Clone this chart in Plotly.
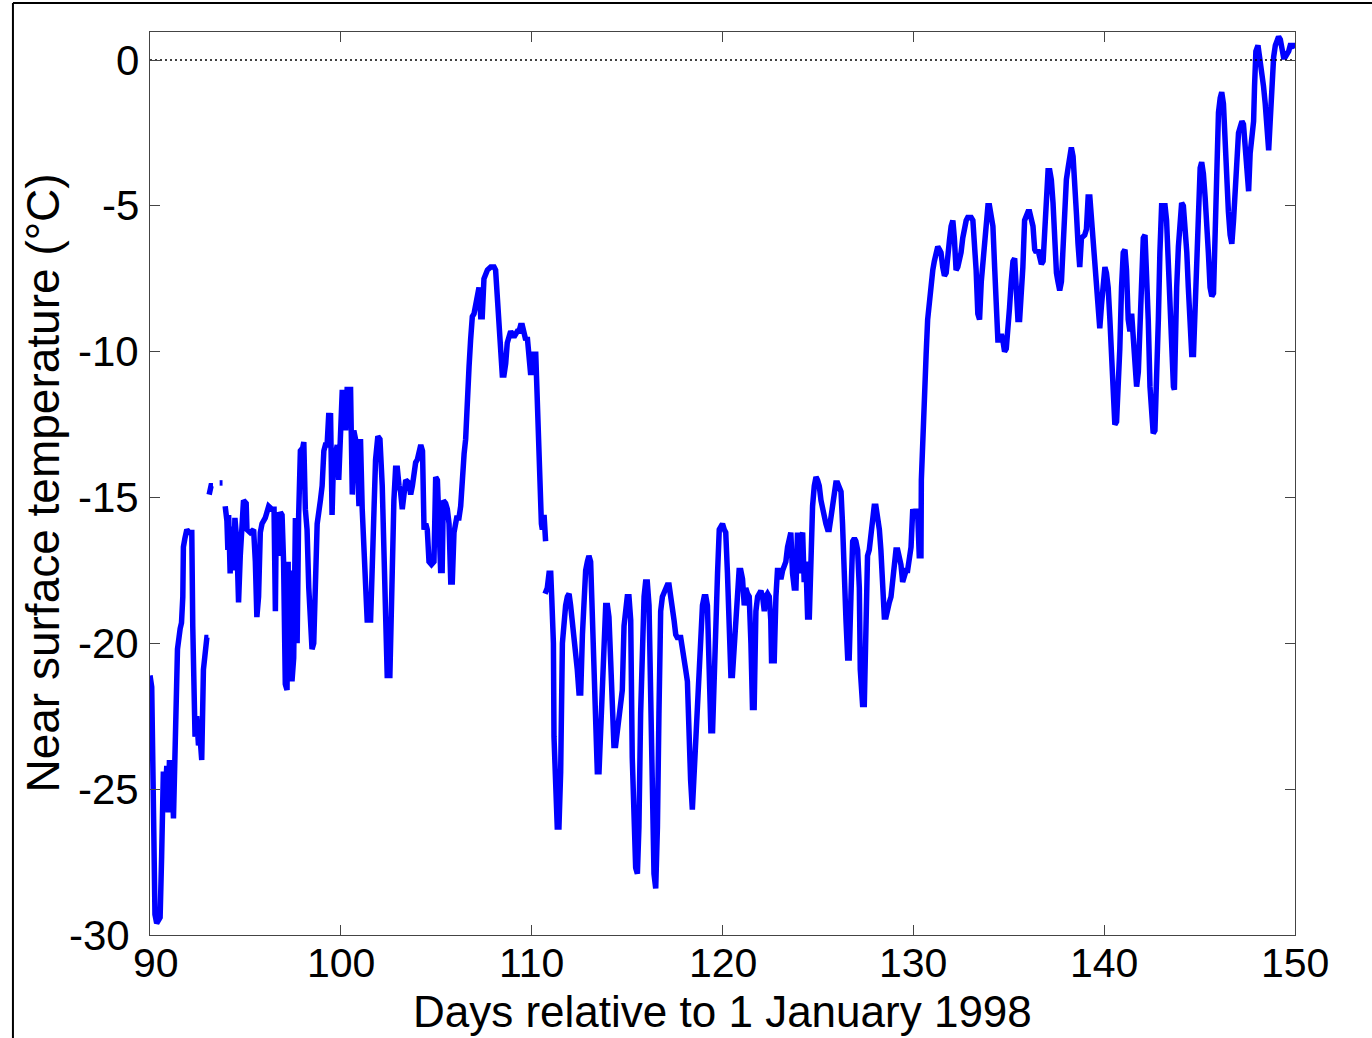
import plotly.graph_objects as go

# ---- data ----
days = [
    90.0, 90.09, 90.2, 90.26, 90.35, 90.45, 90.53, 90.61, 90.7, 90.78, 90.88, 90.95, 91.02, 91.08, 91.14,
    91.23, 91.31, 91.44, 91.58, 91.65, 91.72, 91.75, 91.83, 91.93, 92.05, 92.19, 92.24, 92.28, 92.36, 92.45,
    92.54, 92.62, 92.71, 92.8, 92.9, 92.98, 93.06,
    None,
    93.1, 93.2, 93.3,
    None,
    93.65, 93.8,
    None,
    93.94, 94.03, 94.08, 94.12, 94.2, 94.25, 94.29, 94.38, 94.45, 94.55, 94.64, 94.73, 94.82, 94.9, 95.04,
    95.08, 95.25, 95.43, 95.52, 95.6, 95.69, 95.78, 95.87, 96.04, 96.22, 96.39, 96.5, 96.57, 96.62, 96.7,
    96.83, 96.92, 97.0, 97.09, 97.18, 97.24, 97.27, 97.32, 97.36, 97.4, 97.44, 97.53, 97.62, 97.71, 97.79,
    97.88, 98.0, 98.06, 98.14, 98.23, 98.32, 98.41, 98.49, 98.58, 98.67, 98.76, 98.93, 99.02, 99.11, 99.19,
    99.28, 99.37, 99.42, 99.46, 99.54, 99.63, 99.72, 99.81, 99.89, 99.98, 100.07, 100.16, 100.25, 100.33,
    100.51, 100.6, 100.68, 100.77, 100.86, 100.95, 101.03, 101.12, 101.21, 101.38, 101.56, 101.65, 101.82,
    101.94, 102.05, 102.17, 102.26, 102.35, 102.43, 102.57, 102.64, 102.7, 102.78, 102.87, 102.96, 103.05,
    103.13, 103.22, 103.31, 103.4, 103.57, 103.66, 103.75, 103.84, 103.92, 104.01, 104.19,
    104.28, 104.36, 104.45, 104.53, 104.62, 104.75, 104.88, 104.92, 104.97, 105.06, 105.14, 105.23, 105.31,
    105.37, 105.49, 105.58, 105.67, 105.76, 105.84, 105.93, 106.07, 106.19, 106.28, 106.37, 106.46, 106.54,
    106.63, 106.72, 106.8, 106.89, 106.98, 107.15, 107.24, 107.33, 107.41, 107.5, 107.68, 107.85, 108.03,
    108.11, 108.2, 108.29, 108.38, 108.46, 108.55, 108.64, 108.72, 108.81, 108.9, 109.07, 109.16, 109.25,
    109.34, 109.42, 109.51, 109.6, 109.69, 109.77, 109.86, 109.95, 110.03, 110.12, 110.21, 110.3, 110.38,
    110.44, 110.51, 110.56, 110.65, 110.73,
    None,
    110.7, 110.82, 110.91, 111.0, 111.05, 111.14, 111.17, 111.26, 111.34, 111.43, 111.52, 111.61, 111.69,
    111.78, 111.87, 111.96, 112.04, 112.13, 112.22, 112.31, 112.39, 112.48, 112.57, 112.66, 112.74, 112.83,
    112.92, 113.0, 113.09, 113.18, 113.27, 113.35, 113.44, 113.53, 113.62, 113.7, 113.79, 113.88, 113.97,
    114.05, 114.14, 114.23, 114.31, 114.4, 114.49, 114.58, 114.66, 114.75, 114.84, 114.93, 115.01, 115.1,
    115.19, 115.27, 115.36, 115.45, 115.54, 115.62, 115.71, 115.8, 115.89, 115.97, 116.06, 116.15, 116.24,
    116.32, 116.41, 116.5, 116.59, 116.67, 116.76, 116.85, 116.93, 117.02, 117.11, 117.2, 117.28, 117.37,
    117.46, 117.55, 117.63, 117.81, 117.9, 117.98, 118.07, 118.16, 118.24, 118.33, 118.42, 118.51, 118.59,
    118.68, 118.77,
    118.86, 118.95, 119.04, 119.13, 119.21, 119.3, 119.39, 119.48, 119.56, 119.65, 119.74, 119.83, 119.91,
    120.0, 120.09, 120.17, 120.26, 120.35, 120.44, 120.52, 120.61, 120.7, 120.79, 120.87, 120.96, 121.05,
    121.14, 121.22, 121.31, 121.4, 121.49, 121.57, 121.66, 121.7, 121.75, 121.84, 121.92, 122.01, 122.1,
    122.19, 122.27, 122.36, 122.45, 122.53, 122.57, 122.71, 122.8, 122.88, 122.97, 123.06, 123.15, 123.23,
    123.32, 123.41, 123.5, 123.58, 123.67, 123.76, 123.85, 123.93, 124.02, 124.11, 124.2, 124.28, 124.37,
    124.46, 124.55, 124.63, 124.72, 124.81, 124.9, 124.98, 125.07, 125.16, 125.24, 125.33, 125.42, 125.51,
    125.59, 125.68, 125.77, 125.86, 125.94, 126.03, 126.12, 126.21, 126.29, 126.38, 126.47, 126.56, 126.64,
    126.73, 126.82, 126.91, 126.99, 127.08, 127.17, 127.22, 127.34, 127.43, 127.52, 127.6, 127.69, 127.78,
    127.87, 127.95, 128.04, 128.13, 128.22, 128.3, 128.39, 128.48, 128.57, 128.65, 128.74, 128.83, 128.92,
    129.0, 129.09, 129.18, 129.27, 129.35, 129.44, 129.53, 129.62, 129.7, 129.79, 129.88, 129.97, 130.05,
    130.14, 130.23, 130.31, 130.4,
    130.42, 130.49, 130.58, 130.67, 130.75, 130.84, 130.93, 131.02, 131.1, 131.19, 131.28, 131.37, 131.45,
    131.54, 131.63, 131.72, 131.8, 131.89, 131.98, 132.07, 132.15, 132.24, 132.33, 132.42, 132.5, 132.59,
    132.68, 132.77, 132.85, 132.94, 133.03, 133.12, 133.2, 133.29, 133.38, 133.47, 133.56, 133.64, 133.73,
    133.82, 133.91, 133.99, 134.08, 134.17, 134.26, 134.34, 134.43, 134.52, 134.61, 134.69, 134.78, 134.87,
    134.96, 135.04, 135.13, 135.22, 135.31, 135.39, 135.48, 135.57, 135.66, 135.74, 135.83, 135.92, 136.01,
    136.09, 136.18, 136.27, 136.36, 136.44, 136.53, 136.62, 136.71, 136.8, 136.88, 136.97, 137.06, 137.15,
    137.23, 137.32, 137.41, 137.5, 137.58, 137.67, 137.76, 137.85, 137.93, 138.02, 138.11, 138.2, 138.28,
    138.37, 138.46, 138.55, 138.63, 138.72, 138.81, 138.9, 138.98, 139.07, 139.16, 139.25, 139.33, 139.42,
    139.51, 139.6, 139.68, 139.77, 139.86, 139.95, 140.04, 140.12, 140.21, 140.3, 140.39, 140.47, 140.56,
    140.65, 140.74, 140.82, 140.91, 141.0, 141.09, 141.17, 141.26, 141.35, 141.44, 141.52, 141.61, 141.7,
    141.79, 141.87, 141.96, 142.05, 142.14, 142.22, 142.31, 142.4, 142.49, 142.57, 142.66, 142.75, 142.84,
    142.92, 143.01, 143.1, 143.19, 143.27, 143.36, 143.45, 143.54, 143.63, 143.68, 143.71, 143.8, 143.89,
    143.98, 144.06, 144.15, 144.24, 144.33, 144.41, 144.5, 144.59, 144.68, 144.76, 144.85, 144.94, 145.03,
    145.11, 145.2, 145.29, 145.38, 145.46, 145.55, 145.64, 145.73, 145.81, 145.9, 145.99, 146.08, 146.16,
    146.25, 146.34, 146.43, 146.51, 146.6, 146.69, 146.78, 146.87, 146.95, 147.04, 147.13, 147.22, 147.3,
    147.39, 147.48, 147.57, 147.65, 147.74, 147.83, 147.88, 147.95, 148.06, 148.18, 148.27, 148.35, 148.44,
    148.53, 148.62, 148.7, 148.79, 148.88, 148.97, 149.05, 149.14, 149.23, 149.32, 149.4, 149.49, 149.58,
    149.67, 149.75, 149.84, 149.93, 150.0,
]

temperature = [
    -21.1, -21.5, -26.5, -29.3, -29.6, -29.5, -29.4, -27.3, -24.4, -25.5, -24.2, -25.8, -24.0, -25.0, -24.3,
    -26.0, -22.8, -20.2, -19.5, -19.3, -18.4, -16.7, -16.4, -16.1, -16.2, -16.2, -19.4, -21.6, -23.2, -22.5,
    -23.5, -23.2, -24.0, -20.9, -20.3, -19.8, -19.8,
    None,
    -14.9, -14.6, -14.6,
    None,
    -14.5, -14.5,
    None,
    -15.3, -15.8, -16.8, -15.6, -17.6, -16.0, -16.3, -17.5, -15.7, -16.5, -18.6, -17.0, -15.3, -15.1, -15.2,
    -16.1, -16.2, -16.1, -17.2, -19.1, -18.4, -16.2, -15.9, -15.7, -15.3, -15.4, -15.4, -18.9, -15.5, -17.0,
    -15.5, -15.6, -17.2, -21.4, -21.6, -17.2, -21.0, -17.5, -21.2, -18.0, -21.3, -20.5, -15.7, -20.0, -15.6,
    -13.4, -13.3, -13.1, -15.4, -16.1, -18.1, -19.2, -20.2, -20.0, -16.8, -15.9, -15.1, -14.6, -13.4, -13.2,
    -13.2, -12.1, -13.0, -12.1, -15.6, -13.4, -13.5, -13.2, -14.4, -12.3, -11.4, -11.4, -12.7, -11.3,
    -11.3, -14.9, -12.7, -13.0, -13.7, -15.3, -13.0, -15.4, -16.5, -19.2, -19.2, -16.8, -13.7,
    -12.9, -13.0, -14.6, -17.6, -20.0, -21.1, -21.1, -18.4, -17.2, -15.1, -14.0, -14.0, -14.6,
    -14.8, -15.4, -14.6, -14.4, -14.5, -14.9, -14.6, -14.1, -13.8, -13.7, -13.2,
    -13.4, -16.1, -15.9, -16.1, -17.2, -17.3, -17.2, -16.1, -14.3, -14.4, -16.1, -17.5, -17.5,
    -15.1, -15.2, -15.4, -15.9, -17.9, -17.9, -16.2, -15.7, -15.7, -15.3, -14.0, -13.5, -13.0,
    -12.1, -10.5, -9.6, -8.8, -8.7, -8.0, -7.8, -8.8, -8.8, -7.5, -7.2, -7.1, -7.1,
    -7.2, -8.0, -8.9, -10.0, -10.8, -10.8, -10.4, -9.7, -9.4, -9.3, -9.5, -9.4, -9.3,
    -9.3, -9.1, -9.1, -9.3, -9.6, -9.5, -10.5, -10.8, -10.0, -10.8, -10.0, -12.1, -13.7,
    -15.3, -15.9, -16.1, -15.6, -16.5,
    None,
    -18.3, -18.1, -17.6, -17.6, -18.4, -20.0, -23.2, -25.2, -26.3, -26.3, -24.4, -20.0, -19.2,
    -18.7, -18.4, -18.3, -18.7, -19.2, -20.0, -20.6, -20.9, -21.7, -21.7, -19.7, -18.4, -17.5,
    -17.2, -17.0, -17.2, -18.9, -20.8, -22.7, -24.4, -24.4, -22.8, -21.7, -20.0, -18.7, -18.7,
    -19.1, -20.6, -23.0, -23.5, -23.5, -23.0, -22.5, -22.4, -21.6, -19.4, -18.6, -18.4, -18.4,
    -19.2, -23.9, -26.3, -27.7, -27.9, -26.3, -22.4, -20.0, -18.4, -17.9, -17.9, -18.7, -22.4,
    -25.5, -27.9, -28.4, -26.3, -22.4, -18.9, -18.4, -18.3, -18.1, -18.0, -18.0, -18.3, -18.7,
    -19.2, -19.7, -19.8, -19.8, -20.3, -20.6, -20.9, -21.3, -23.2, -24.7, -25.7, -24.4, -23.2,
    -21.6, -20.8,
    -19.2, -18.7, -18.4, -18.4, -18.7, -21.6, -23.0, -23.0, -20.8, -19.2, -17.6, -16.1, -16.0,
    -15.9, -16.1, -16.2, -17.6, -20.3, -21.1, -21.1, -20.0, -18.7, -17.8, -17.5, -17.5, -17.8,
    -18.7, -18.1, -18.3, -18.4, -20.0, -22.2, -22.2, -19.7, -18.9, -18.4, -18.3, -18.2, -18.4,
    -18.9, -18.4, -18.3, -18.4, -19.2, -20.6, -20.6, -18.4, -17.5, -17.5, -17.8, -17.5, -17.3,
    -17.2, -16.7, -16.4, -16.2, -17.6, -18.1, -18.1, -16.2, -17.6, -16.4, -16.2, -17.9, -17.2,
    -19.1, -19.1, -16.8, -15.3, -14.6, -14.3, -14.4, -14.6, -15.1, -15.4, -15.6, -15.9, -16.1,
    -16.1, -15.7, -15.3, -14.6, -14.5, -14.5, -14.7, -14.8, -15.9, -18.4, -19.2, -20.5, -20.5,
    -18.4, -16.5, -16.4, -16.5, -16.8, -18.1, -20.9, -22.1, -22.1, -17.6, -17.0, -16.8, -16.1,
    -15.4, -15.3, -15.3, -15.6, -16.1, -16.8, -18.1, -19.1, -19.1, -18.7, -18.6, -18.4, -17.8,
    -17.0, -16.8, -16.8, -17.0, -17.3, -17.9, -17.6, -17.5, -17.5, -17.2, -16.7, -15.4, -15.6,
    -15.4, -15.6, -17.0, -17.0,
    -14.4, -12.9, -11.6, -10.1, -8.9, -8.2, -8.0, -7.2, -6.9, -6.6, -6.4, -6.5, -6.6,
    -7.1, -7.4, -7.3, -6.5, -6.2, -5.7, -5.5, -6.1, -7.2, -7.1, -6.9, -6.6, -6.1,
    -5.7, -5.5, -5.4, -5.4, -5.4, -5.5, -6.1, -7.2, -8.7, -8.9, -7.6, -6.9, -6.4,
    -5.7, -5.0, -5.0, -5.3, -5.7, -7.1, -8.7, -9.6, -9.6, -9.4, -9.6, -10.0, -9.9,
    -8.7, -8.5, -7.6, -6.9, -6.8, -7.8, -8.9, -8.9, -8.0, -7.1, -5.5, -5.3, -5.2,
    -5.2, -5.4, -5.7, -6.5, -6.6, -6.5, -6.8, -7.0, -6.9, -5.7, -4.4, -3.8, -3.8,
    -4.1, -4.9, -6.6, -7.3, -7.6, -7.9, -7.6, -6.1, -4.8, -4.1, -3.7, -3.2, -3.0,
    -3.3, -4.1, -5.3, -6.3, -7.1, -6.1, -6.0, -6.0, -5.8, -4.7, -4.7, -5.5, -6.4,
    -7.3, -8.0, -8.9, -9.2, -8.4, -7.4, -7.1, -7.3, -7.8, -8.9, -10.1, -11.5, -12.5,
    -12.4, -11.2, -9.9, -7.8, -6.6, -6.5, -7.2, -8.9, -9.3, -8.7, -9.6, -10.7, -11.2,
    -10.7, -8.9, -7.2, -6.1, -6.0, -7.2, -8.9, -11.2, -12.1, -12.8, -12.7, -11.2, -8.9,
    -6.6, -5.0, -5.0, -5.0, -5.5, -7.1, -8.9, -10.8, -11.2, -11.3, -9.5, -7.8, -6.4,
    -5.3, -4.9, -5.0, -5.7, -6.6, -7.8, -8.9, -10.1, -10.1, -8.4, -6.6, -4.4, -3.7,
    -3.5, -3.9, -4.7, -5.5, -6.6, -7.8, -8.1, -8.0, -6.1, -3.2, -1.8, -1.3, -1.1,
    -1.5, -3.2, -4.6, -5.2, -6.0, -6.3, -5.5, -4.1, -3.0, -2.5, -2.3, -2.1, -2.2,
    -3.2, -3.6, -4.5, -3.2, -2.4, -2.1, -0.9, 0.3, 0.5, 0.0, -0.3, -0.9, -1.5,
    -2.1, -3.1, -2.1, -0.9, 0.1, 0.5, 0.7, 0.8, 0.7, 0.3, 0.1, 0.1, 0.2,
    0.3, 0.5, 0.5, 0.5, 0.4,
]

x_ticks = [90, 100, 110, 120, 130, 140, 150]
y_ticks = [0, -5, -10, -15, -20, -25, -30]
x_title = "Days relative to 1 January 1998"
y_title = "Near surface temperature (°C)"

FONT = "Liberation Sans, Arial, Helvetica, sans-serif"
YTICK_SIZE = 42
XTICK_SIZE = 41
TITLE_SIZE = 46

fig = go.Figure()
fig.add_trace(go.Scatter(
    x=days, y=temperature, mode="lines",
    line=dict(color="#0000ff", width=5.5),
    connectgaps=False, showlegend=False, hoverinfo="skip",
))

# zero reference line (dotted)
fig.add_trace(go.Scatter(
    x=[x_ticks[0], x_ticks[-1]], y=[0, 0], mode="lines",
    line=dict(color="black", width=1.5, dash="2px,3px"),
    showlegend=False, hoverinfo="skip",
))

axis_common = dict(
    showgrid=False, zeroline=False,
    showline=True, linecolor="#444444", linewidth=1.2, mirror="ticks",
    ticks="inside", ticklen=10, tickwidth=1, tickcolor="#444444",
    showticklabels=False,
)

fig.update_xaxes(range=[90, 150], tickvals=x_ticks, **axis_common)
fig.update_yaxes(range=[-30, 0.96], tickvals=y_ticks, **axis_common)

# y tick labels (annotations so the corner labels do not collide)
for v in y_ticks:
    corner = (v == y_ticks[-1])
    fig.add_annotation(x=0, xref="paper", y=v, yref="y", text=str(v),
                       showarrow=False, xanchor="right", yanchor="middle", borderpad=0,
                       xshift=-19 if corner else -10,
                       font=dict(family=FONT, size=YTICK_SIZE, color="black"))

# x tick labels
for v in x_ticks:
    corner = (v == x_ticks[0])
    fig.add_annotation(x=v, xref="x", y=-0.0310, yref="paper", text=str(v),
                       showarrow=False, xanchor="center", yanchor="middle", borderpad=0,
                       xshift=6 if corner else 0,
                       font=dict(family=FONT, size=XTICK_SIZE, color="black"))

# axis titles
fig.add_annotation(x=0.5, xref="paper", y=-0.0850, yref="paper", text=x_title,
                   showarrow=False, xanchor="center", yanchor="middle", borderpad=0,
                   font=dict(family=FONT, size=44, color="black"))
fig.add_annotation(x=-0.0943, xref="paper", y=0.5, yref="paper", text=y_title, textangle=-90,
                   showarrow=False, xanchor="center", yanchor="middle", borderpad=0,
                   font=dict(family=FONT, size=TITLE_SIZE, color="black"))

# outer frame lines of the surrounding window (paper coordinates)
fig.add_shape(type="line", xref="paper", yref="paper", x0=-0.1197, x1=-0.1197, y0=1.0321, y1=-0.2,
              line=dict(color="black", width=2))
fig.add_shape(type="line", xref="paper", yref="paper", x0=-0.1197, x1=1.2, y0=1.0321, y1=1.0321,
              line=dict(color="black", width=2))

fig.update_layout(
    width=1372, height=1038,
    margin=dict(l=150, r=77, t=32, b=103, autoexpand=False),
    paper_bgcolor="white", plot_bgcolor="white",
    font=dict(family=FONT, color="black"),
)

fig.write_html("out.html")
